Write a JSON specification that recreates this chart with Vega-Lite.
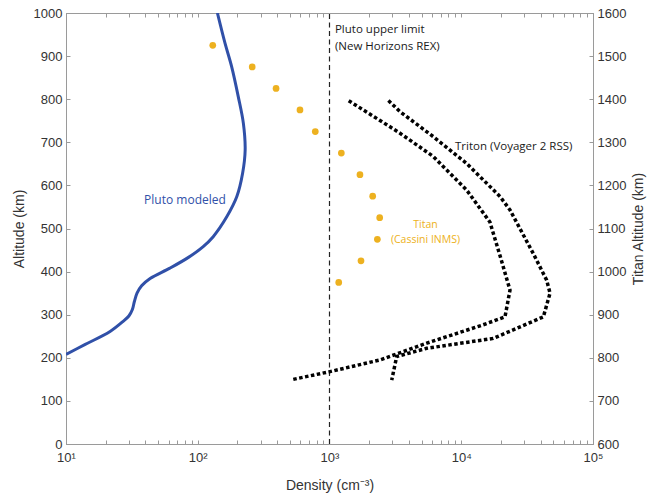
{
  "$schema": "https://vega.github.io/schema/vega-lite/v6.json",
  "width": 527,
  "height": 431,
  "autosize": {"type": "none"},
  "padding": {"left": 66, "top": 13, "right": 57, "bottom": 54},
  "background": "white",
  "config": {
    "view": {"stroke": "#9a9a9a", "strokeWidth": 1},
    "axis": {
      "domainColor": "#9a9a9a", "tickColor": "#9a9a9a", "tickSize": -4, "grid": false,
      "labelFont": "Liberation Sans", "labelFontSize": 13, "labelColor": "#333333", "labelPadding": 8,
      "titleFont": "Liberation Sans", "titleFontSize": 14, "titleFontWeight": "normal", "titleColor": "#333333",
      "labelFlush": false, "labelOverlap": false
    },
    "text": {"font": "Open Sans", "fontSize": 11.5}
  },
  "datasets": {
    "pluto": [
      {"i": 0, "d": 10, "alt": 208}, {"i": 1, "d": 14, "alt": 231}, {"i": 2, "d": 21.6, "alt": 261},
      {"i": 3, "d": 27.0, "alt": 284}, {"i": 4, "d": 30.0, "alt": 297}, {"i": 5, "d": 31.9, "alt": 312},
      {"i": 6, "d": 33.0, "alt": 330}, {"i": 7, "d": 34.6, "alt": 350}, {"i": 8, "d": 37.5, "alt": 367},
      {"i": 9, "d": 43.5, "alt": 384}, {"i": 10, "d": 61.5, "alt": 408}, {"i": 11, "d": 85, "alt": 433},
      {"i": 12, "d": 110, "alt": 458}, {"i": 13, "d": 131, "alt": 481}, {"i": 14, "d": 166, "alt": 527},
      {"i": 15, "d": 198, "alt": 574}, {"i": 16, "d": 219, "alt": 628}, {"i": 17, "d": 229, "alt": 682},
      {"i": 18, "d": 222, "alt": 744}, {"i": 19, "d": 203, "alt": 806}, {"i": 20, "d": 181, "alt": 875},
      {"i": 21, "d": 161, "alt": 930}, {"i": 22, "d": 141, "alt": 1000}
    ],
    "triton": [
      {"series": "A", "i": 0, "d": 531, "alt": 150}, {"series": "A", "i": 1, "d": 1010, "alt": 168},
      {"series": "A", "i": 2, "d": 2415, "alt": 195}, {"series": "A", "i": 3, "d": 5470, "alt": 234},
      {"series": "A", "i": 4, "d": 10970, "alt": 264}, {"series": "A", "i": 5, "d": 14500, "alt": 276},
      {"series": "A", "i": 6, "d": 21480, "alt": 295}, {"series": "A", "i": 7, "d": 23440, "alt": 357},
      {"series": "A", "i": 8, "d": 19700, "alt": 437}, {"series": "A", "i": 9, "d": 16500, "alt": 515},
      {"series": "A", "i": 10, "d": 11000, "alt": 589}, {"series": "A", "i": 11, "d": 6140, "alt": 667},
      {"series": "A", "i": 12, "d": 3430, "alt": 721}, {"series": "A", "i": 13, "d": 2877, "alt": 736},
      {"series": "A", "i": 14, "d": 1390, "alt": 797},
      {"series": "B", "i": 0, "d": 2800, "alt": 797}, {"series": "B", "i": 1, "d": 3430, "alt": 771},
      {"series": "B", "i": 2, "d": 6140, "alt": 713}, {"series": "B", "i": 3, "d": 11000, "alt": 651},
      {"series": "B", "i": 4, "d": 19700, "alt": 574}, {"series": "B", "i": 5, "d": 23440, "alt": 543},
      {"series": "B", "i": 6, "d": 35200, "alt": 442}, {"series": "B", "i": 7, "d": 44500, "alt": 380},
      {"series": "B", "i": 8, "d": 47200, "alt": 350}, {"series": "B", "i": 9, "d": 42000, "alt": 295},
      {"series": "B", "i": 10, "d": 17500, "alt": 245}, {"series": "B", "i": 11, "d": 5470, "alt": 222},
      {"series": "B", "i": 12, "d": 3236, "alt": 203}, {"series": "B", "i": 13, "d": 2966, "alt": 148}
    ],
    "titan": [
      {"d": 130, "talt": 1525}, {"d": 259, "talt": 1475}, {"d": 393, "talt": 1425}, {"d": 597, "talt": 1375},
      {"d": 780, "talt": 1325}, {"d": 1230, "talt": 1275}, {"d": 1703, "talt": 1225}, {"d": 2127, "talt": 1175},
      {"d": 2404, "talt": 1125}, {"d": 2308, "talt": 1075}, {"d": 1734, "talt": 1025}, {"d": 1175, "talt": 975}
    ],
    "limit": [{"d": 1000, "alt": 0, "alt2": 1000}],
    "labels": [
      {"group": "black", "d": 1100, "alt": 960, "label": "Pluto upper limit"},
      {"group": "black", "d": 1100, "alt": 921, "label": "(New Horizons  REX)"},
      {"group": "black", "d": 8970, "alt": 689, "label": "Triton (Voyager 2 RSS)"},
      {"group": "orange", "d": 5350, "alt": 508, "label": "Titan"},
      {"group": "orange", "d": 5350, "alt": 474, "label": "(Cassini INMS)"},
      {"group": "blue", "d": 80, "alt": 566, "label": "Pluto modeled"}
    ]
  },
  "layer": [
    {
      "encoding": {
        "x": {
          "field": "d", "type": "quantitative",
          "scale": {"type": "log", "domain": [10, 100000], "nice": false},
          "axis": {
            "orient": "bottom", "title": "Density (cm⁻³)", "titlePadding": 14, "labelPadding": 11,
            "values": [10,20,30,40,50,60,70,80,90,100,200,300,400,500,600,700,800,900,1000,2000,3000,4000,5000,6000,7000,8000,9000,10000,20000,30000,40000,50000,60000,70000,80000,90000,100000],
            "labelExpr": "datum.value==10?'10¹':datum.value==100?'10²':datum.value==1000?'10³':datum.value==10000?'10⁴':datum.value==100000?'10⁵':''"
          }
        },
        "y": {
          "field": "alt", "type": "quantitative",
          "scale": {"domain": [0, 1000], "nice": false},
          "axis": {"orient": "left", "title": "Altitude (km)", "titlePadding": 7, "format": "d", "values": [0,100,200,300,400,500,600,700,800,900,1000]}
        }
      },
      "layer": [
        {
          "data": {"name": "limit"},
          "mark": {"type": "rule", "color": "#222222", "strokeWidth": 1.2, "strokeDash": [5, 3.5]},
          "encoding": {"y2": {"field": "alt2"}}
        },
        {
          "data": {"name": "pluto"},
          "mark": {"type": "line", "color": "#3050A8", "strokeWidth": 3, "interpolate": "catmull-rom", "clip": true},
          "encoding": {"order": {"field": "i", "type": "quantitative"}}
        },
        {
          "data": {"name": "triton"},
          "mark": {"type": "line", "color": "#000000", "strokeWidth": 3.5, "strokeDash": [3.5, 2.5], "strokeCap": "butt"},
          "encoding": {"detail": {"field": "series"}, "order": {"field": "i", "type": "quantitative"}}
        },
        {
          "data": {"name": "labels"},
          "transform": [{"filter": "datum.group == 'black'"}],
          "mark": {"type": "text", "align": "left", "baseline": "middle", "color": "#1a1a1a", "fontSize": 11.5},
          "encoding": {"text": {"field": "label"}}
        },
        {
          "data": {"name": "labels"},
          "transform": [{"filter": "datum.group == 'orange'"}],
          "mark": {"type": "text", "align": "center", "baseline": "middle", "color": "#EDB120", "fontSize": 10.5},
          "encoding": {"text": {"field": "label"}}
        },
        {
          "data": {"name": "labels"},
          "transform": [{"filter": "datum.group == 'blue'"}],
          "mark": {"type": "text", "align": "center", "baseline": "middle", "color": "#3050A8", "fontSize": 12},
          "encoding": {"text": {"field": "label"}}
        }
      ]
    },
    {
      "data": {"name": "titan"},
      "mark": {"type": "point", "filled": true, "size": 45, "color": "#EDB120", "opacity": 1},
      "encoding": {
        "x": {
          "field": "d", "type": "quantitative",
          "scale": {"type": "log", "domain": [10, 100000], "nice": false},
          "axis": {
            "orient": "top", "title": null, "labels": false,
            "values": [10,20,30,40,50,60,70,80,90,100,200,300,400,500,600,700,800,900,1000,2000,3000,4000,5000,6000,7000,8000,9000,10000,20000,30000,40000,50000,60000,70000,80000,90000,100000]
          }
        },
        "y": {
          "field": "talt", "type": "quantitative",
          "scale": {"domain": [600, 1600], "nice": false},
          "axis": {"orient": "right", "title": "Titan Altitude (km)", "titleAngle": 270, "titleBaseline": "top", "titlePadding": 6, "format": "d", "values": [600,700,800,900,1000,1100,1200,1300,1400,1500,1600]}
        }
      }
    }
  ],
  "resolve": {"scale": {"y": "independent"}, "axis": {"x": "independent"}}
}
